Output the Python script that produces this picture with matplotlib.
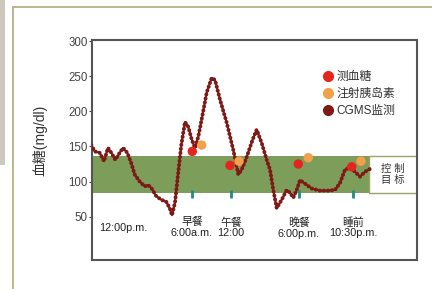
import matplotlib
matplotlib.use("Agg")
import matplotlib.pyplot as plt
from matplotlib.patches import Rectangle
from matplotlib.lines import Line2D

plt.rcParams['font.family'] = ['Liberation Sans', 'Noto Sans CJK SC', 'DejaVu Sans']

# ---- data ----
cgms_x = [91.3, 94.7, 99.7, 104, 108, 111.3, 115.3, 119.7, 123, 127.3, 131.3, 134.7, 139.7,
          144.7, 148, 151.3, 156.3, 161.3, 166.3, 169.7, 172, 175, 178, 181.3, 185, 188.3,
          191.7, 195, 198.3, 201.7, 206.7, 211.7, 215, 220, 226.7, 233.3, 238.3, 241.7,
          246.7, 252.7, 256.7, 261.7, 266.7, 270, 273.3, 276.7, 281.7, 286.7, 290, 293.3,
          296.7, 300, 305, 311.7, 320, 328, 335, 340, 345, 350, 355, 360, 365, 370]
cgms_y = [152, 143, 141, 129, 148, 141, 131, 141, 148, 141, 126, 110, 100,
          93, 95, 91, 79, 74, 71, 62, 52, 70, 110, 152, 185, 178,
          160, 148, 164, 189, 227, 248, 245, 217, 184, 145, 110, 117,
          135, 160, 174, 155, 131, 117, 88, 62, 74, 88, 84, 77,
          88, 102, 97, 90, 87, 87, 88, 98, 117, 120, 114, 107, 114, 118]

finger_x = [192.3, 230, 298.3, 351.7]
finger_y = [143, 123, 125, 121]
insulin_x = [201.7, 239, 308.3, 361]
insulin_y = [152, 129, 134, 129]

meal_x = [192, 231, 299, 353]
meal_labels = ["早餐\n6:00a.m.", "午餐\n12:00", "晚餐\n6:00p.m.", "睡前\n10:30p.m."]
start_x = 123
start_label = "12:00p.m."

target_low, target_high = 84, 137
yticks = [50, 100, 150, 200, 250, 300]
legend_labels = ["测血糖", "注射胰岛素", "CGMS监测"]
ylabel = "血糖(mg/dl)"
target_label = "控 制\n目 标"

# ---- figure ----
W, H = 432, 289
fig = plt.figure(figsize=(W / 100, H / 100), dpi=100)
fig.patch.set_facecolor('white')

# decorative outer frame and left strip
fig.patches.append(Rectangle((12.5 / W, -0.1), 1.2, 1 - 7 / H + 0.1, transform=fig.transFigure,
                             fill=False, edgecolor='#bdb58c', lw=1.4))
fig.patches.append(Rectangle((0, 1 - 165 / H), 4.5 / W, 165 / H, transform=fig.transFigure,
                             facecolor='#cbc8bd', edgecolor='none'))

ax = fig.add_axes([92 / W, 1 - 260 / H, (417 - 92) / W, (260 - 40) / H])
ax.set_xlim(92, 417)
ax.set_ylim(-12, 302)

green = '#7d9d5a'
box_left = 369
ax.axhspan(target_low, target_high, xmin=0, xmax=(box_left - 92) / (417 - 92),
           facecolor=green, edgecolor='none', zorder=1)
ax.add_patch(Rectangle((box_left, target_low), 417 - box_left, target_high - target_low,
                       facecolor='white', edgecolor='#9aa36a', lw=1.0, zorder=1))
ax.text((box_left + 417) / 2, (target_low + target_high) / 2, target_label, ha='center',
        va='center', fontsize=7.5, color='#333333', linespacing=1.1, zorder=3)

# meal tick marks
ax.vlines(meal_x, 76, 88, colors='#1e8c7e', lw=2.0, zorder=2)

# CGMS curve
cgms_color = '#7e1a16'
ax.plot(cgms_x, cgms_y, color=cgms_color, lw=1.5, zorder=3, solid_joinstyle='round')
ax.plot(cgms_x, cgms_y, color=cgms_color, lw=2.9, linestyle=(0, (0.01, 1.0)),
        dash_capstyle='round', zorder=3)

ax.scatter(finger_x, finger_y, s=46, color='#e5251d', zorder=4, edgecolors='none')
ax.scatter(insulin_x, insulin_y, s=46, color='#f2a04a', zorder=4, edgecolors='none')

# x labels inside axes
ax.text(start_x, 34, start_label, ha='center', va='center', fontsize=7.8, color='#222222')
for x, lab in zip(meal_x, meal_labels):
    ax.text(x, 34, lab, ha='center', va='center', fontsize=7.8, color='#222222', linespacing=1.1)

ax.set_xticks([])
ax.set_yticks(yticks)
ax.tick_params(axis='y', length=2, width=0.8, labelsize=8.3, colors='#444444', pad=1)
for s in ax.spines.values():
    s.set_color('#555555')
    s.set_linewidth(1.5)

fig.text(40 / W, 1 - 140 / H, ylabel, rotation=90, ha='center', va='center',
         fontsize=10, color='#333333')

handles = [
    Line2D([], [], marker='o', ls='none', color='#e5251d', markersize=7),
    Line2D([], [], marker='o', ls='none', color='#f2a04a', markersize=7),
    Line2D([], [], marker='o', ls='none', color=cgms_color, markersize=7),
]
leg = ax.legend(handles, legend_labels, loc='upper left', bbox_to_anchor=((317 - 92) / 220 * 220 / 325, 1 - 26 / 220),
                frameon=False, fontsize=8.5, handletextpad=0.25, labelspacing=0.45,
                borderaxespad=0, handlelength=1.0)
for t in leg.get_texts():
    t.set_color('#333333')

fig.savefig('out.png', dpi=100)
